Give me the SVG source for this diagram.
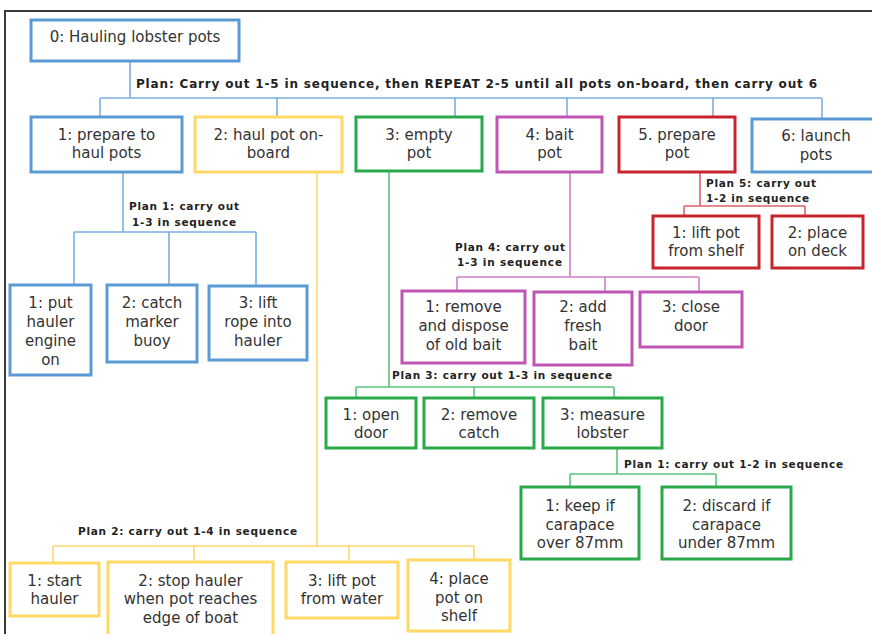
<svg xmlns="http://www.w3.org/2000/svg" width="872" height="634" viewBox="0 0 872 634">
<style>
.n rect{fill:#fff;stroke-width:3}
.n text{font-family:"DejaVu Sans",Verdana,sans-serif;font-size:15px;fill:#333;text-anchor:middle}
.b rect{stroke:#5b9bd5}
.y rect{stroke:#ffd966}
.g rect{stroke:#2aa84a}
.m rect{stroke:#c056b3}
.r rect{stroke:#c8242b}
.c path{fill:none;stroke-width:1.6}
.cb{stroke:#7eaee0}
.cy{stroke:#ffd76e}
.cg{stroke:#5ec47c}
.cm{stroke:#cf80c7}
.cr{stroke:#d9646a}
.p{font-family:"DejaVu Sans",Verdana,sans-serif;font-weight:bold;font-size:10.5px;fill:#222}
.pm{font-size:12px}
</style>
<rect x="0" y="0" width="872" height="634" fill="#fff"/>
<path d="M5,640 V11 H880" fill="none" stroke="#3a3a3a" stroke-width="2"/>

<g id="connectors" class="c">
  <path class="cb" d="M130,61 V98 M100,98 H822 M100,98 V117 M277,98 V117 M455,98 V117 M567,98 V117 M713,98 V117 M822,98 V118"/>
  <path class="cb" d="M123,172 V232 M74,232 H256 M74,232 V285 M169,232 V285 M256,232 V285"/>
  <path class="cy" d="M317,172 V546 M53,546 H474 M53,546 V562 M194,546 V562 M349,546 V562 M474,546 V560"/>
  <path class="cg" d="M389,172 V387 M356,387 H614 M356,387 V398 M474,387 V398 M614,387 V398"/>
  <path class="cg" d="M617,448 V474 M570,474 H716 M570,474 V486 M716,474 V486"/>
  <path class="cm" d="M570,172 V277 M457,277 H699 M457,277 V291 M605,277 V291 M699,277 V291"/>
  <path class="cr" d="M700,172 V206 M684,206 H805 M684,206 V216 M805,206 V216"/>
</g>

<g id="plans">
  <text class="p pm" x="136" y="88" textLength="681" lengthAdjust="spacing">Plan: Carry out 1-5 in sequence, then REPEAT 2-5 until all pots on-board, then carry out 6</text>
  <text class="p" x="129" y="210" textLength="110" lengthAdjust="spacing">Plan 1: carry out</text>
  <text class="p" x="132" y="226" textLength="104" lengthAdjust="spacing">1-3 in sequence</text>
  <text class="p" x="455" y="251" textLength="110" lengthAdjust="spacing">Plan 4: carry out</text>
  <text class="p" x="457" y="266" textLength="105" lengthAdjust="spacing">1-3 in sequence</text>
  <text class="p" x="706" y="187" textLength="110" lengthAdjust="spacing">Plan 5: carry out</text>
  <text class="p" x="706" y="202" textLength="103" lengthAdjust="spacing">1-2 in sequence</text>
  <text class="p" x="392" y="379" textLength="220" lengthAdjust="spacing">Plan 3: carry out 1-3 in sequence</text>
  <text class="p" x="624" y="468" textLength="219" lengthAdjust="spacing">Plan 1: carry out 1-2 in sequence</text>
  <text class="p" x="78" y="535" textLength="219" lengthAdjust="spacing">Plan 2: carry out 1-4 in sequence</text>
</g>

<g id="n0" class="n b"><rect x="31" y="20" width="208" height="41"/><text x="135" y="42">0: Hauling lobster pots</text></g>

<g id="n1" class="n b"><rect x="31" y="117" width="151" height="55"/><text x="106.5" y="140">1: prepare to</text><text x="106.5" y="158">haul pots</text></g>
<g id="n2" class="n y"><rect x="195" y="117" width="147" height="55"/><text x="268.5" y="140">2: haul pot on-</text><text x="268.5" y="158">board</text></g>
<g id="n3" class="n g"><rect x="356" y="117" width="126" height="54"/><text x="419" y="140">3: empty</text><text x="419" y="158">pot</text></g>
<g id="n4" class="n m"><rect x="497" y="117" width="105" height="55"/><text x="549.5" y="140">4: bait</text><text x="549.5" y="158">pot</text></g>
<g id="n5" class="n r"><rect x="619" y="117" width="116" height="55"/><text x="677" y="140">5. prepare</text><text x="677" y="158">pot</text></g>
<g id="n6" class="n b"><rect x="752" y="119" width="129" height="53"/><text x="816" y="141">6: launch</text><text x="816" y="160">pots</text></g>

<g id="n1-1" class="n b"><rect x="10" y="285" width="81" height="90"/><text x="50.5" y="308">1: put</text><text x="50.5" y="327">hauler</text><text x="50.5" y="346">engine</text><text x="50.5" y="365">on</text></g>
<g id="n1-2" class="n b"><rect x="107" y="285" width="90" height="77"/><text x="152" y="308">2: catch</text><text x="152" y="327">marker</text><text x="152" y="346">buoy</text></g>
<g id="n1-3" class="n b"><rect x="209" y="286" width="98" height="74"/><text x="258" y="308">3: lift</text><text x="258" y="327">rope into</text><text x="258" y="346">hauler</text></g>

<g id="n5-1" class="n r"><rect x="653" y="216" width="106" height="52"/><text x="706" y="238">1: lift pot</text><text x="706" y="256">from shelf</text></g>
<g id="n5-2" class="n r"><rect x="772" y="216" width="91" height="52"/><text x="817.5" y="238">2: place</text><text x="817.5" y="256">on deck</text></g>

<g id="n4-1" class="n m"><rect x="402" y="291" width="123" height="72"/><text x="463.5" y="312">1: remove</text><text x="463.5" y="331">and dispose</text><text x="463.5" y="350">of old bait</text></g>
<g id="n4-2" class="n m"><rect x="534" y="292" width="98" height="73"/><text x="583" y="312">2: add</text><text x="583" y="331">fresh</text><text x="583" y="350">bait</text></g>
<g id="n4-3" class="n m"><rect x="640" y="292" width="102" height="55"/><text x="691" y="312">3: close</text><text x="691" y="331">door</text></g>

<g id="n3-1" class="n g"><rect x="326" y="398" width="90" height="50"/><text x="371" y="420">1: open</text><text x="371" y="438">door</text></g>
<g id="n3-2" class="n g"><rect x="424" y="398" width="110" height="50"/><text x="479" y="420">2: remove</text><text x="479" y="438">catch</text></g>
<g id="n3-3" class="n g"><rect x="543" y="398" width="119" height="50"/><text x="602.5" y="420">3: measure</text><text x="602.5" y="438">lobster</text></g>

<g id="n3-3-1" class="n g"><rect x="521" y="487" width="118" height="72"/><text x="580" y="511">1: keep if</text><text x="580" y="530">carapace</text><text x="580" y="548">over 87mm</text></g>
<g id="n3-3-2" class="n g"><rect x="662" y="487" width="129" height="72"/><text x="726.5" y="511">2: discard if</text><text x="726.5" y="530">carapace</text><text x="726.5" y="548">under 87mm</text></g>

<g id="n2-1" class="n y"><rect x="10" y="563" width="89" height="53"/><text x="54.5" y="586">1: start</text><text x="54.5" y="604">hauler</text></g>
<g id="n2-2" class="n y"><rect x="108" y="562" width="165" height="76"/><text x="190.5" y="586">2: stop hauler</text><text x="190.5" y="604">when pot reaches</text><text x="190.5" y="623">edge of boat</text></g>
<g id="n2-3" class="n y"><rect x="286" y="562" width="112" height="56"/><text x="342" y="586">3: lift pot</text><text x="342" y="604">from water</text></g>
<g id="n2-4" class="n y"><rect x="408" y="560" width="102" height="71"/><text x="459" y="584">4: place</text><text x="459" y="603">pot on</text><text x="459" y="621">shelf</text></g>
</svg>
